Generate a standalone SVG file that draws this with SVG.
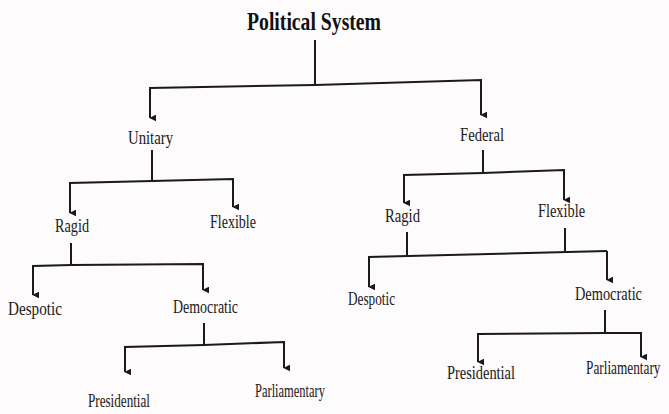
<svg xmlns="http://www.w3.org/2000/svg" width="669" height="414" viewBox="0 0 669 414">
<style>
.t{font-family:"Liberation Serif","DejaVu Serif",serif;font-size:19px;fill:#1a1a1a}
.title{font-family:"Liberation Serif","DejaVu Serif",serif;font-size:25px;font-weight:bold;fill:#111}
.c{fill:none;stroke:#1a1a1a;stroke-width:2}
</style>
<defs>
<marker id="a" viewBox="0 0 10 10" refX="5" refY="9" markerWidth="7" markerHeight="7" markerUnits="userSpaceOnUse" orient="auto-start-reverse">
<path d="M0,0 L10,0 L5,10 Z" fill="#1a1a1a"/>
</marker>
</defs>
<rect width="669" height="414" fill="#fdfbfb"/>
<g id="connectors">
<path class="c" d="M315,40 V85"/>
<path class="c" d="M315,85 L150,88 V118" marker-end="url(#a)"/>
<path class="c" d="M315,85 L481,80 V115" marker-end="url(#a)"/>
<path class="c" d="M152,150 V181"/>
<path class="c" d="M152,181 L70,183 V213" marker-end="url(#a)"/>
<path class="c" d="M152,181 L233,179 V207" marker-end="url(#a)"/>
<path class="c" d="M71,243 V265"/>
<path class="c" d="M71,265 L33,266 V295" marker-end="url(#a)"/>
<path class="c" d="M71,265 L203,264 V290" marker-end="url(#a)"/>
<path class="c" d="M204,323 V345"/>
<path class="c" d="M204,345 L125,347 V372" marker-end="url(#a)"/>
<path class="c" d="M204,345 L284,342 V368" marker-end="url(#a)"/>
<path class="c" d="M483,150 V173"/>
<path class="c" d="M483,173 L404,175 V203" marker-end="url(#a)"/>
<path class="c" d="M483,173 L564,170 V200" marker-end="url(#a)"/>
<path class="c" d="M407,232 V255"/>
<path class="c" d="M565,228 V251"/>
<path class="c" d="M368,257 L607,251"/>
<path class="c" d="M369,257 V287" marker-end="url(#a)"/>
<path class="c" d="M607,251 V280" marker-end="url(#a)"/>
<path class="c" d="M605,310 V333"/>
<path class="c" d="M605,333 L478,334 V362" marker-end="url(#a)"/>
<path class="c" d="M605,333 L641,333 V357" marker-end="url(#a)"/>
</g>
<g id="n-political"><text class="title" x="247" y="30" textLength="134" lengthAdjust="spacingAndGlyphs">Political System</text></g>
<g id="n-unitary"><text class="t" x="128" y="144" textLength="45" lengthAdjust="spacingAndGlyphs">Unitary</text></g>
<g id="n-federal"><text class="t" x="460" y="141" textLength="44" lengthAdjust="spacingAndGlyphs">Federal</text></g>
<g id="n-ragid-l"><text class="t" x="55" y="232" textLength="34" lengthAdjust="spacingAndGlyphs">Ragid</text></g>
<g id="n-flexible-l"><text class="t" x="210" y="228" textLength="46" lengthAdjust="spacingAndGlyphs">Flexible</text></g>
<g id="n-ragid-r"><text class="t" x="385" y="222" textLength="35" lengthAdjust="spacingAndGlyphs">Ragid</text></g>
<g id="n-flexible-r"><text class="t" x="538" y="217" textLength="47" lengthAdjust="spacingAndGlyphs">Flexible</text></g>
<g id="n-despotic-l"><text class="t" x="8" y="315" textLength="54" lengthAdjust="spacingAndGlyphs">Despotic</text></g>
<g id="n-democratic-l"><text class="t" x="173" y="313" textLength="65" lengthAdjust="spacingAndGlyphs">Democratic</text></g>
<g id="n-despotic-r"><text class="t" x="348" y="305" textLength="47" lengthAdjust="spacingAndGlyphs">Despotic</text></g>
<g id="n-democratic-r"><text class="t" x="575" y="300" textLength="67" lengthAdjust="spacingAndGlyphs">Democratic</text></g>
<g id="n-presidential-l"><text class="t" x="88" y="407" textLength="62" lengthAdjust="spacingAndGlyphs">Presidential</text></g>
<g id="n-parliamentary-l"><text class="t" x="255" y="397" textLength="70" lengthAdjust="spacingAndGlyphs">Parliamentary</text></g>
<g id="n-presidential-r"><text class="t" x="447" y="379" textLength="68" lengthAdjust="spacingAndGlyphs">Presidential</text></g>
<g id="n-parliamentary-r"><text class="t" transform="translate(586,374) scale(0.7,1)" x="0" y="0">Parliamentary</text></g>
</svg>
